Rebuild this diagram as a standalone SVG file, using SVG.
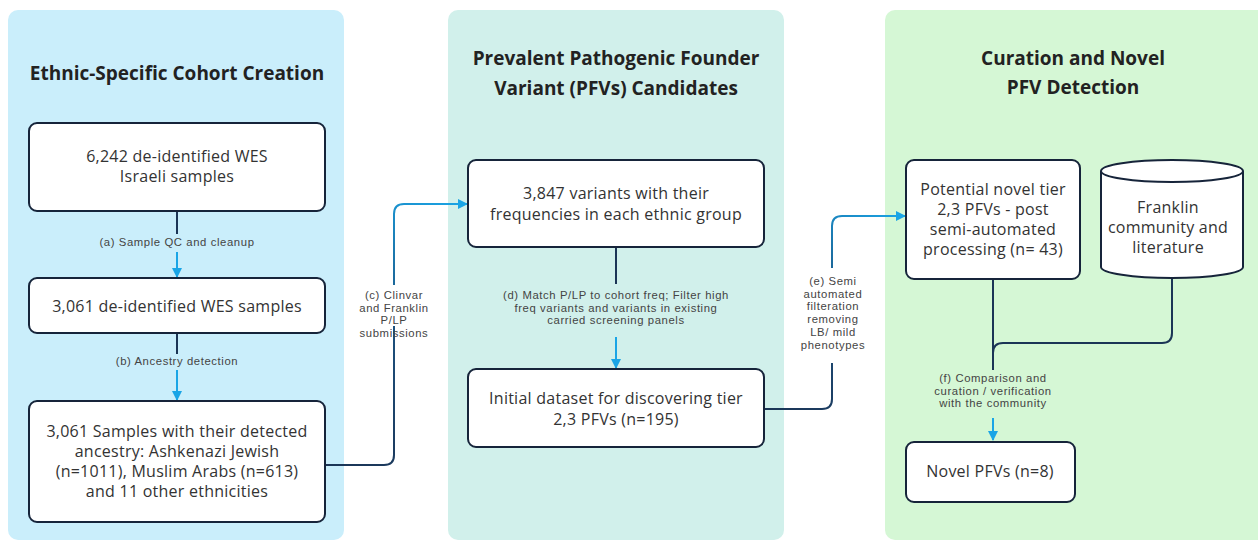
<svg xmlns="http://www.w3.org/2000/svg" width="1258" height="542" viewBox="0 0 1258 542">
  <style>
    .panel-a { fill: #caeefb; }
    .panel-b { fill: #d1f0eb; }
    .panel-c { fill: #d5f7d5; }
    .box { fill: #ffffff; stroke: #16243a; stroke-width: 2; }
    .title { font-family: "Open Sans", "Liberation Sans", sans-serif; font-weight: bold; font-size: 19px; fill: #222222; text-anchor: middle; }
    .node { font-family: "Open Sans", "Liberation Sans", sans-serif; font-size: 16px; letter-spacing: 0.25px; fill: #333333; text-anchor: middle; }
    .label { font-family: "Liberation Sans", Arial, sans-serif; font-size: 11.3px; letter-spacing: 0.6px; fill: #444444; text-anchor: middle; }
    .wire { fill: none; stroke-width: 2; }
    .dark { stroke: #1b3556; }
    .blue { stroke: #1aa5e6; }
  </style>
  <defs>
    <marker id="arrow" viewBox="0 0 10 10" refX="9" refY="5" markerWidth="5" markerHeight="5" orient="auto" markerUnits="strokeWidth">
      <path d="M0,0 L10,5 L0,10 Z" fill="#1aa5e6"/>
    </marker>
    <linearGradient id="gc" gradientUnits="userSpaceOnUse" x1="330" y1="465" x2="466" y2="204">
      <stop offset="0" stop-color="#1b3556"/>
      <stop offset="0.5" stop-color="#1c4f7c"/>
      <stop offset="1" stop-color="#1aa5e6"/>
    </linearGradient>
    <linearGradient id="ge" gradientUnits="userSpaceOnUse" x1="770" y1="409" x2="905" y2="216">
      <stop offset="0" stop-color="#1b3556"/>
      <stop offset="0.5" stop-color="#1c4f7c"/>
      <stop offset="1" stop-color="#1aa5e6"/>
    </linearGradient>
  </defs>

  <!-- column backgrounds -->
  <rect class="panel-a" x="8" y="10" width="336" height="530" rx="10"/>
  <rect class="panel-b" x="448" y="10" width="336" height="530" rx="10"/>
  <rect class="panel-c" x="885" y="10" width="390" height="530" rx="10"/>

  <text class="title" x="177" y="80">Ethnic-Specific Cohort Creation</text>
  <text class="title" x="616" y="65">Prevalent Pathogenic Founder</text>
  <text class="title" x="616" y="95">Variant (PFVs) Candidates</text>
  <text class="title" x="1073" y="65">Curation and Novel</text>
  <text class="title" x="1073" y="94">PFV Detection</text>

  <!-- connectors -->
  <g id="connectors">
    <!-- (a) -->
    <line class="wire dark" x1="177" y1="211" x2="177" y2="234"/>
    <line class="wire blue" x1="177" y1="252" x2="177" y2="277" marker-end="url(#arrow)"/>
    <text class="label" x="177" y="246">(a) Sample QC and cleanup</text>
    <!-- (b) -->
    <line class="wire dark" x1="177" y1="333" x2="177" y2="354"/>
    <line class="wire blue" x1="177" y1="370" x2="177" y2="400" marker-end="url(#arrow)"/>
    <text class="label" x="177" y="365">(b) Ancestry detection</text>
    <!-- (c) -->
    <path class="wire" stroke="url(#gc)" d="M325,465 H384 Q394,465 394,455 V326"/>
    <path class="wire" stroke="url(#gc)" d="M394,285 V214 Q394,204 404,204 H467" marker-end="url(#arrow)"/>
    <text class="label" x="394" y="299">(c) Clinvar</text>
    <text class="label" x="394" y="311.7">and Franklin</text>
    <text class="label" x="394" y="324.4">P/LP</text>
    <text class="label" x="394" y="337.1">submissions</text>
    <!-- (d) -->
    <line class="wire dark" x1="616" y1="247" x2="616" y2="284"/>
    <line class="wire blue" x1="616" y1="337" x2="616" y2="368" marker-end="url(#arrow)"/>
    <text class="label" x="616" y="299">(d) Match P/LP to cohort freq; Filter high</text>
    <text class="label" x="616" y="311.7">freq variants and variants in existing</text>
    <text class="label" x="616" y="324.4">carried screening panels</text>
    <!-- (e) -->
    <path class="wire" stroke="url(#ge)" d="M764,409 H822 Q832,409 832,399 V363"/>
    <path class="wire" stroke="url(#ge)" d="M832,268 V226 Q832,216 842,216 H905" marker-end="url(#arrow)"/>
    <text class="label" x="833" y="285">(e) Semi</text>
    <text class="label" x="833" y="297.7">automated</text>
    <text class="label" x="833" y="310.4">filteration</text>
    <text class="label" x="833" y="323.1">removing</text>
    <text class="label" x="833" y="335.8">LB/ mild</text>
    <text class="label" x="833" y="348.5">phenotypes</text>
    <!-- (f) -->
    <line class="wire dark" x1="993" y1="279" x2="993" y2="370"/>
    <path class="wire dark" d="M1172,278 V333 Q1172,343 1162,343 H1003 Q993,343 993,353"/>
    <line class="wire blue" x1="993" y1="418" x2="993" y2="440" marker-end="url(#arrow)"/>
    <text class="label" x="993" y="382">(f) Comparison and</text>
    <text class="label" x="993" y="394.7">curation / verification</text>
    <text class="label" x="993" y="407.4">with the community</text>
  </g>

  <!-- nodes -->
  <g id="wes-samples">
    <rect class="box" x="29" y="123" width="296" height="88" rx="8"/>
    <text class="node" x="177" y="162">6,242 de-identified WES</text>
    <text class="node" x="177" y="182">Israeli samples</text>
  </g>
  <g id="qc-samples">
    <rect class="box" x="29" y="278" width="296" height="55" rx="8"/>
    <text class="node" x="177" y="312">3,061 de-identified WES samples</text>
  </g>
  <g id="ancestry-samples">
    <rect class="box" x="29" y="401" width="296" height="121" rx="8"/>
    <text class="node" x="177" y="437">3,061 Samples with their detected</text>
    <text class="node" x="177" y="457">ancestry: Ashkenazi Jewish</text>
    <text class="node" x="177" y="477">(n=1011), Muslim Arabs (n=613)</text>
    <text class="node" x="177" y="497">and 11 other ethnicities</text>
  </g>
  <g id="variants">
    <rect class="box" x="468" y="160" width="296" height="87" rx="8"/>
    <text class="node" x="616" y="199">3,847 variants with their</text>
    <text class="node" x="616" y="220">frequencies in each ethnic group</text>
  </g>
  <g id="initial-dataset">
    <rect class="box" x="468" y="369" width="296" height="78" rx="8"/>
    <text class="node" x="616" y="404">Initial dataset for discovering tier</text>
    <text class="node" x="616" y="425">2,3 PFVs (n=195)</text>
  </g>
  <g id="potential-novel">
    <rect class="box" x="906" y="160" width="174" height="119" rx="8"/>
    <text class="node" x="993" y="195">Potential novel tier</text>
    <text class="node" x="993" y="215">2,3 PFVs - post</text>
    <text class="node" x="993" y="235">semi-automated</text>
    <text class="node" x="993" y="255">processing (n= 43)</text>
  </g>
  <g id="franklin-community">
    <path class="box" d="M1101,171 A71,11 0 0 1 1243,171 V267 A71,11 0 0 1 1101,267 Z"/>
    <path class="box" fill="none" d="M1101,171 A71,11 0 0 0 1243,171"/>
    <text class="node" x="1168" y="213">Franklin</text>
    <text class="node" x="1168" y="233">community and</text>
    <text class="node" x="1168" y="253">literature</text>
  </g>
  <g id="novel-pfvs">
    <rect class="box" x="906" y="442" width="169" height="60" rx="8"/>
    <text class="node" x="990" y="477">Novel PFVs (n=8)</text>
  </g>
</svg>
